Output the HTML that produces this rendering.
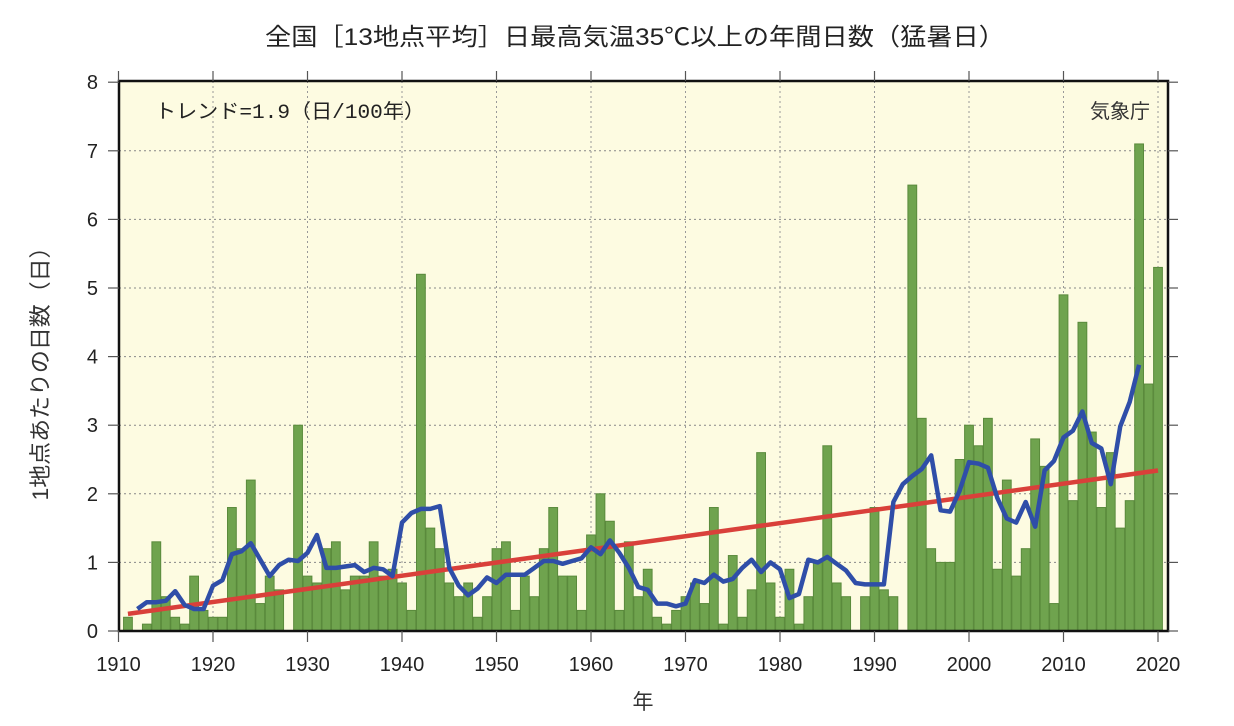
<!DOCTYPE html>
<html><head><meta charset="utf-8">
<style>
html,body{margin:0;padding:0;background:#fff;}
svg{display:block;font-family:"Liberation Sans","Noto Sans CJK JP",sans-serif;}
</style></head>
<body>
<svg id="c" width="1234" height="726" viewBox="0 0 1234 726" xmlns="http://www.w3.org/2000/svg">
<rect x="0" y="0" width="1234" height="726" fill="#fff"/>
<rect x="119" y="81" width="1049" height="550" fill="#fdfbe1"/>
<g id="grid"></g>
<g id="bars"></g>
<g id="lines"></g>
<rect x="119" y="81" width="1049" height="550" fill="none" stroke="#111" stroke-width="2.5"/>
<g id="ticks"></g>
<text x="635" y="45" font-size="24" text-anchor="middle" fill="#222" textLength="740" lengthAdjust="spacingAndGlyphs">全国［13地点平均］日最高気温35℃以上の年間日数（猛暑日）</text>
<text x="155" y="118" font-size="20" fill="#222" font-family="Liberation Mono,'Noto Sans CJK JP',monospace" textLength="270" lengthAdjust="spacingAndGlyphs">トレンド=1.9（日/100年）</text>
<text x="1090" y="118" font-size="20" fill="#333">気象庁</text>
<text x="643" y="709" font-size="21" text-anchor="middle" fill="#333">年</text>
<text transform="translate(48,368) rotate(-90)" font-size="22" text-anchor="middle" fill="#333" textLength="265" lengthAdjust="spacingAndGlyphs">1地点あたりの日数（日）</text>
</svg>
<script>
var X0=118.5,PX=9.45,Y0=631,PY=68.6;
function xs(y){return X0+PX*(y-1910);}
function ys(v){return Y0-PY*v;}
var d={1910:0,1911:0.2,1912:0,1913:0.1,1914:1.3,1915:0.5,1916:0.2,1917:0.1,1918:0.8,1919:0.3,1920:0.2,1921:0.2,1922:1.8,1923:1.2,1924:2.2,1925:0.4,1926:0.8,1927:0.6,1928:0,1929:3.0,1930:0.8,1931:0.7,1932:1.2,1933:1.3,1934:0.6,1935:0.8,1936:0.8,1937:1.3,1938:0.8,1939:0.9,1940:0.7,1941:0.3,1942:5.2,1943:1.5,1944:1.2,1945:0.7,1946:0.5,1947:0.7,1948:0.2,1949:0.5,1950:1.2,1951:1.3,1952:0.3,1953:0.8,1954:0.5,1955:1.2,1956:1.8,1957:0.8,1958:0.8,1959:0.3,1960:1.4,1961:2.0,1962:1.6,1963:0.3,1964:1.3,1965:0.5,1966:0.9,1967:0.2,1968:0.1,1969:0.3,1970:0.5,1971:0.7,1972:0.4,1973:1.8,1974:0.1,1975:1.1,1976:0.2,1977:0.6,1978:2.6,1979:0.7,1980:0.2,1981:0.9,1982:0.1,1983:0.5,1984:1.0,1985:2.7,1986:0.7,1987:0.5,1988:0,1989:0.5,1990:1.8,1991:0.6,1992:0.5,1993:0,1994:6.5,1995:3.1,1996:1.2,1997:1.0,1998:1.0,1999:2.5,2000:3.0,2001:2.7,2002:3.1,2003:0.9,2004:2.2,2005:0.8,2006:1.2,2007:2.8,2008:2.4,2009:0.4,2010:4.9,2011:1.9,2012:4.5,2013:2.9,2014:1.8,2015:2.6,2016:1.5,2017:1.9,2018:7.1,2019:3.6,2020:5.3};
var NS="http://www.w3.org/2000/svg";
function el(p,t,a,txt){var e=document.createElementNS(NS,t);for(var k in a)e.setAttribute(k,a[k]);if(txt!==undefined)e.textContent=txt;document.getElementById(p).appendChild(e);}
for(var v=1;v<8;v++)el("grid","line",{x1:119,x2:1168,y1:ys(v),y2:ys(v),stroke:"#888","stroke-width":1,"stroke-dasharray":"2,3"});
for(var y=1920;y<=2020;y+=10)el("grid","line",{x1:xs(y),x2:xs(y),y1:81,y2:631,stroke:"#999","stroke-width":1,"stroke-dasharray":"2,3"});
for(var y=1911;y<=2020;y++){var v=d[y];if(v>0)el("bars","rect",{x:xs(y)-4.4,y:ys(v),width:8.8,height:Y0-ys(v),fill:"#6fa34e",stroke:"#5a8a3c","stroke-width":1});}
el("lines","line",{x1:xs(1911),y1:ys(0.25),x2:xs(2020),y2:ys(2.34),stroke:"#d9403a","stroke-width":4.5});
var pts=[];for(var y=1912;y<=2018;y++){var s=0;for(var k=-2;k<=2;k++)s+=d[y+k];pts.push(xs(y).toFixed(1)+","+ys(s/5).toFixed(1));}
el("lines","polyline",{points:pts.join(" "),fill:"none",stroke:"#2f4ea8","stroke-width":4.5,"stroke-linejoin":"round"});
for(var v=0;v<=8;v++){el("ticks","line",{x1:108,x2:119,y1:ys(v),y2:ys(v),stroke:"#555","stroke-width":1.2});el("ticks","line",{x1:1168,x2:1178,y1:ys(v),y2:ys(v),stroke:"#555","stroke-width":1.2});
el("ticks","text",{x:98,y:ys(v)+7,"font-size":20,"text-anchor":"end",fill:"#222"},String(v));}
for(var y=1910;y<=2020;y+=10){el("ticks","line",{x1:xs(y),x2:xs(y),y1:631,y2:642,stroke:"#555","stroke-width":1.2});el("ticks","line",{x1:xs(y),x2:xs(y),y1:71,y2:81,stroke:"#555","stroke-width":1.2});
el("ticks","text",{x:xs(y),y:671,"font-size":20,"text-anchor":"middle",fill:"#222"},String(y));}
</script>
</body></html>
